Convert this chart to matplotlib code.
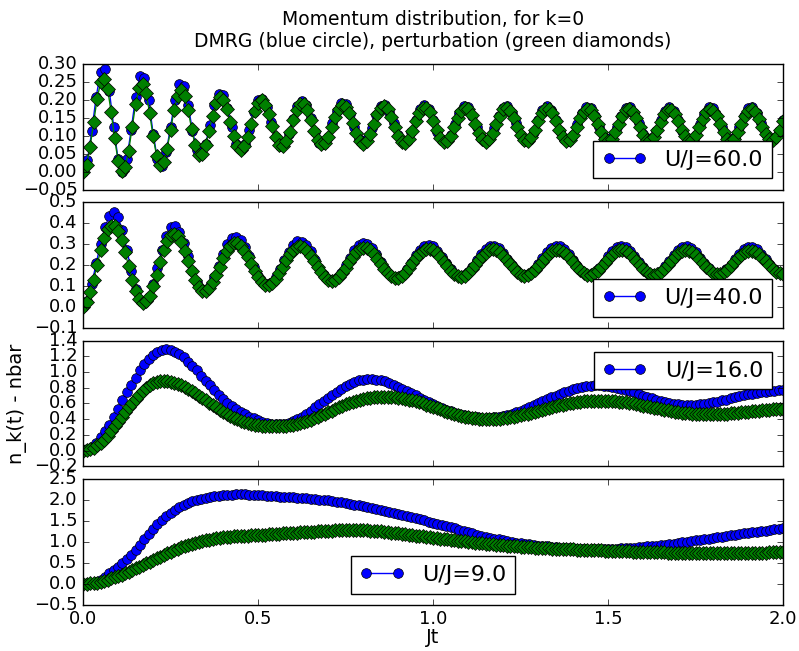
import numpy as np
import matplotlib
matplotlib.use('Agg')
import matplotlib.pyplot as plt

plt.style.use('classic')
plt.rcParams['figure.facecolor'] = 'white'
plt.rcParams['savefig.facecolor'] = 'white'

# time grids: DMRG run with dt=0.0125, perturbation theory with dt=0.01
t_dmrg = np.linspace(0.0, 2.0, 161)
t_pert = np.linspace(0.0, 2.0, 201)

U_values = [60.0, 40.0, 16.0, 9.0]

# U/J = 60
dmrg_60 = [
    0.000, 0.032, 0.114, 0.209, 0.276, 0.285, 0.225, 0.124, 0.034, 0.000,
    0.035, 0.117, 0.208, 0.266, 0.261, 0.198, 0.106, 0.034, 0.017, 0.054,
    0.125, 0.199, 0.243, 0.238, 0.186, 0.114, 0.059, 0.047, 0.076, 0.130,
    0.186, 0.217, 0.213, 0.176, 0.123, 0.078, 0.060, 0.076, 0.117, 0.165,
    0.198, 0.203, 0.179, 0.138, 0.096, 0.072, 0.076, 0.105, 0.147, 0.183,
    0.197, 0.184, 0.149, 0.109, 0.081, 0.077, 0.097, 0.134, 0.170, 0.190,
    0.187, 0.160, 0.123, 0.091, 0.078, 0.090, 0.121, 0.157, 0.183, 0.186,
    0.167, 0.134, 0.101, 0.082, 0.085, 0.109, 0.144, 0.174, 0.186, 0.175,
    0.145, 0.111, 0.087, 0.083, 0.101, 0.133, 0.164, 0.183, 0.179, 0.156,
    0.123, 0.094, 0.083, 0.094, 0.122, 0.155, 0.178, 0.182, 0.164, 0.134,
    0.103, 0.085, 0.089, 0.111, 0.143, 0.171, 0.182, 0.171, 0.144, 0.112,
    0.090, 0.086, 0.103, 0.133, 0.163, 0.180, 0.177, 0.154, 0.123, 0.096,
    0.085, 0.096, 0.123, 0.154, 0.176, 0.180, 0.163, 0.134, 0.104, 0.087,
    0.090, 0.112, 0.143, 0.170, 0.180, 0.170, 0.144, 0.113, 0.091, 0.087,
    0.103, 0.132, 0.161, 0.179, 0.176, 0.154, 0.123, 0.096, 0.086, 0.096,
    0.123, 0.154, 0.176, 0.179, 0.162, 0.134, 0.105, 0.088, 0.091, 0.113,
    0.143]
pert_60 = [
    0.000, 0.019, 0.069, 0.137, 0.203, 0.248, 0.259, 0.230, 0.167, 0.093,
    0.030, 0.001, 0.012, 0.057, 0.123, 0.187, 0.233, 0.244, 0.218, 0.164,
    0.098, 0.044, 0.018, 0.027, 0.063, 0.116, 0.171, 0.211, 0.226, 0.211,
    0.171, 0.120, 0.073, 0.047, 0.049, 0.074, 0.113, 0.156, 0.190, 0.207,
    0.200, 0.175, 0.137, 0.099, 0.070, 0.060, 0.070, 0.097, 0.133, 0.168,
    0.192, 0.198, 0.186, 0.159, 0.126, 0.095, 0.074, 0.071, 0.084, 0.111,
    0.143, 0.171, 0.188, 0.188, 0.172, 0.145, 0.114, 0.089, 0.076, 0.079,
    0.096, 0.123, 0.152, 0.175, 0.186, 0.181, 0.162, 0.135, 0.107, 0.086,
    0.078, 0.086, 0.106, 0.133, 0.160, 0.178, 0.183, 0.173, 0.151, 0.125,
    0.100, 0.083, 0.081, 0.092, 0.114, 0.141, 0.164, 0.178, 0.178, 0.165,
    0.141, 0.115, 0.094, 0.083, 0.085, 0.100, 0.124, 0.149, 0.168, 0.178,
    0.174, 0.157, 0.133, 0.108, 0.090, 0.083, 0.090, 0.108, 0.132, 0.156,
    0.173, 0.177, 0.168, 0.149, 0.124, 0.102, 0.087, 0.085, 0.095, 0.115,
    0.140, 0.162, 0.174, 0.174, 0.162, 0.140, 0.116, 0.096, 0.086, 0.088,
    0.102, 0.124, 0.148, 0.166, 0.175, 0.171, 0.155, 0.132, 0.109, 0.091,
    0.085, 0.091, 0.109, 0.132, 0.155, 0.171, 0.175, 0.166, 0.148, 0.125,
    0.103, 0.089, 0.087, 0.096, 0.116, 0.139, 0.160, 0.172, 0.172, 0.161,
    0.140, 0.117, 0.098, 0.087, 0.088, 0.102, 0.123, 0.146, 0.165, 0.174,
    0.170, 0.155, 0.132, 0.109, 0.092, 0.086, 0.092, 0.109, 0.132, 0.155,
    0.170, 0.174, 0.166, 0.147, 0.125, 0.104, 0.090, 0.088, 0.097, 0.117,
    0.140]

# U/J = 40
dmrg_40 = [
    0.000, 0.030, 0.110, 0.210, 0.300, 0.380, 0.435, 0.455, 0.430, 0.365,
    0.274, 0.174, 0.088, 0.034, 0.021, 0.049, 0.108, 0.187, 0.270, 0.340,
    0.380, 0.386, 0.360, 0.307, 0.241, 0.173, 0.117, 0.084, 0.080, 0.102,
    0.145, 0.198, 0.254, 0.301, 0.330, 0.335, 0.319, 0.286, 0.241, 0.193,
    0.150, 0.120, 0.108, 0.116, 0.141, 0.179, 0.222, 0.262, 0.296, 0.313,
    0.312, 0.295, 0.265, 0.226, 0.187, 0.154, 0.133, 0.128, 0.139, 0.164,
    0.199, 0.236, 0.270, 0.294, 0.305, 0.300, 0.281, 0.251, 0.217, 0.183,
    0.157, 0.142, 0.142, 0.155, 0.181, 0.212, 0.246, 0.274, 0.292, 0.298,
    0.290, 0.269, 0.240, 0.208, 0.179, 0.157, 0.147, 0.151, 0.167, 0.192,
    0.223, 0.253, 0.278, 0.292, 0.293, 0.282, 0.260, 0.231, 0.202, 0.175,
    0.158, 0.152, 0.159, 0.177, 0.203, 0.233, 0.261, 0.281, 0.291, 0.289,
    0.275, 0.252, 0.224, 0.195, 0.172, 0.158, 0.156, 0.165, 0.185, 0.212,
    0.241, 0.266, 0.284, 0.290, 0.285, 0.268, 0.244, 0.216, 0.189, 0.169,
    0.158, 0.159, 0.172, 0.194, 0.221, 0.248, 0.271, 0.286, 0.289, 0.280,
    0.262, 0.236, 0.209, 0.184, 0.166, 0.159, 0.164, 0.179, 0.202, 0.229,
    0.255, 0.276, 0.287, 0.286, 0.275, 0.254, 0.228, 0.202, 0.179, 0.164,
    0.160]
pert_40 = [
    0.000, 0.025, 0.070, 0.130, 0.200, 0.270, 0.330, 0.370, 0.388, 0.387,
    0.364, 0.320, 0.261, 0.195, 0.130, 0.075, 0.037, 0.020, 0.027, 0.054,
    0.099, 0.155, 0.215, 0.271, 0.316, 0.343, 0.350, 0.337, 0.309, 0.268,
    0.220, 0.171, 0.127, 0.095, 0.077, 0.077, 0.091, 0.117, 0.153, 0.192,
    0.232, 0.266, 0.291, 0.304, 0.303, 0.290, 0.268, 0.238, 0.205, 0.171,
    0.142, 0.120, 0.107, 0.106, 0.115, 0.135, 0.161, 0.191, 0.222, 0.251,
    0.273, 0.286, 0.290, 0.283, 0.268, 0.245, 0.219, 0.191, 0.165, 0.143,
    0.130, 0.125, 0.130, 0.143, 0.163, 0.188, 0.215, 0.240, 0.262, 0.277,
    0.283, 0.280, 0.270, 0.252, 0.230, 0.205, 0.182, 0.161, 0.146, 0.139,
    0.139, 0.148, 0.164, 0.185, 0.208, 0.232, 0.252, 0.268, 0.277, 0.277,
    0.271, 0.257, 0.238, 0.216, 0.194, 0.173, 0.157, 0.148, 0.145, 0.150,
    0.163, 0.180, 0.201, 0.223, 0.244, 0.260, 0.271, 0.275, 0.271, 0.261,
    0.245, 0.225, 0.204, 0.184, 0.167, 0.155, 0.150, 0.152, 0.161, 0.176,
    0.195, 0.216, 0.236, 0.253, 0.266, 0.272, 0.272, 0.264, 0.251, 0.233,
    0.213, 0.193, 0.175, 0.162, 0.154, 0.154, 0.160, 0.172, 0.189, 0.208,
    0.229, 0.247, 0.261, 0.270, 0.272, 0.267, 0.256, 0.240, 0.221, 0.202,
    0.183, 0.168, 0.158, 0.155, 0.158, 0.168, 0.183, 0.201, 0.221, 0.240,
    0.256, 0.266, 0.271, 0.269, 0.261, 0.247, 0.229, 0.210, 0.191, 0.175,
    0.163, 0.158, 0.158, 0.165, 0.178, 0.195, 0.214, 0.232, 0.249, 0.262,
    0.269, 0.269, 0.264, 0.252, 0.236, 0.218, 0.199, 0.182, 0.168, 0.160,
    0.158]

# U/J = 16
dmrg_16 = [
    0.00, 0.02, 0.05, 0.10, 0.17, 0.25, 0.33, 0.43, 0.53, 0.64,
    0.74, 0.83, 0.93, 1.02, 1.10, 1.16, 1.22, 1.26, 1.28, 1.29,
    1.28, 1.26, 1.23, 1.19, 1.13, 1.08, 1.02, 0.95, 0.89, 0.83,
    0.77, 0.71, 0.66, 0.61, 0.57, 0.53, 0.49, 0.46, 0.43, 0.41,
    0.385, 0.37, 0.35, 0.34, 0.335, 0.335, 0.34, 0.355, 0.375, 0.40,
    0.43, 0.47, 0.51, 0.55, 0.59, 0.63, 0.67, 0.71, 0.75, 0.79,
    0.82, 0.85, 0.875, 0.895, 0.905, 0.91, 0.91, 0.905, 0.895, 0.88,
    0.86, 0.84, 0.815, 0.79, 0.76, 0.735, 0.705, 0.675, 0.645, 0.62,
    0.59, 0.565, 0.54, 0.52, 0.50, 0.48, 0.465, 0.45, 0.44, 0.43,
    0.425, 0.42, 0.42, 0.42, 0.425, 0.43, 0.44, 0.455, 0.47, 0.49,
    0.51, 0.53, 0.555, 0.58, 0.605, 0.63, 0.655, 0.68, 0.70, 0.725,
    0.745, 0.765, 0.78, 0.795, 0.81, 0.82, 0.825, 0.83, 0.83, 0.825,
    0.82, 0.81, 0.80, 0.785, 0.77, 0.755, 0.74, 0.72, 0.70, 0.68,
    0.665, 0.645, 0.63, 0.615, 0.605, 0.595, 0.59, 0.585, 0.58, 0.58,
    0.585, 0.59, 0.595, 0.605, 0.615, 0.625, 0.64, 0.65, 0.665, 0.68,
    0.69, 0.705, 0.715, 0.725, 0.735, 0.745, 0.75, 0.76, 0.765, 0.77,
    0.775]
pert_16 = [
    0.00, 0.01, 0.02, 0.04, 0.07, 0.10, 0.14, 0.19, 0.25, 0.31,
    0.37, 0.43, 0.49, 0.55, 0.61, 0.66, 0.71, 0.76, 0.80, 0.835,
    0.86, 0.875, 0.883, 0.885, 0.882, 0.875, 0.865, 0.85, 0.83, 0.81,
    0.785, 0.76, 0.73, 0.70, 0.67, 0.64, 0.61, 0.58, 0.55, 0.52,
    0.495, 0.47, 0.445, 0.42, 0.40, 0.38, 0.365, 0.35, 0.34, 0.33,
    0.322, 0.317, 0.313, 0.31, 0.31, 0.31, 0.31, 0.312, 0.316, 0.322,
    0.33, 0.34, 0.35, 0.365, 0.38, 0.395, 0.41, 0.43, 0.45, 0.47,
    0.49, 0.51, 0.53, 0.55, 0.57, 0.59, 0.605, 0.62, 0.635, 0.648,
    0.66, 0.668, 0.675, 0.68, 0.683, 0.685, 0.685, 0.685, 0.683, 0.68,
    0.675, 0.668, 0.66, 0.65, 0.64, 0.628, 0.615, 0.60, 0.585, 0.57,
    0.555, 0.54, 0.525, 0.51, 0.495, 0.48, 0.467, 0.455, 0.443, 0.432,
    0.423, 0.415, 0.41, 0.405, 0.402, 0.40, 0.40, 0.40, 0.402, 0.405,
    0.41, 0.415, 0.422, 0.43, 0.44, 0.45, 0.46, 0.47, 0.482, 0.494,
    0.506, 0.518, 0.53, 0.542, 0.554, 0.565, 0.576, 0.586, 0.595, 0.603,
    0.61, 0.617, 0.622, 0.627, 0.63, 0.633, 0.634, 0.635, 0.635, 0.635,
    0.634, 0.632, 0.629, 0.625, 0.62, 0.614, 0.607, 0.60, 0.592, 0.583,
    0.574, 0.565, 0.556, 0.547, 0.538, 0.529, 0.52, 0.512, 0.504, 0.497,
    0.49, 0.484, 0.478, 0.473, 0.469, 0.466, 0.463, 0.461, 0.46, 0.46,
    0.461, 0.462, 0.464, 0.467, 0.47, 0.474, 0.478, 0.482, 0.487, 0.492,
    0.497, 0.502, 0.506, 0.51, 0.514, 0.518, 0.521, 0.524, 0.527, 0.529,
    0.531]

# U/J = 9
dmrg_9 = [
    0.00, 0.01, 0.02, 0.05, 0.10, 0.17, 0.25, 0.33, 0.41, 0.49,
    0.58, 0.68, 0.80, 0.93, 1.06, 1.19, 1.31, 1.42, 1.53, 1.62,
    1.70, 1.77, 1.83, 1.88, 1.93, 1.97, 2.00, 2.03, 2.05, 2.07,
    2.09, 2.10, 2.11, 2.12, 2.125, 2.13, 2.13, 2.13, 2.125, 2.12,
    2.115, 2.11, 2.10, 2.095, 2.09, 2.08, 2.075, 2.07, 2.06, 2.055,
    2.05, 2.04, 2.03, 2.02, 2.01, 2.00, 1.99, 1.975, 1.96, 1.945,
    1.93, 1.91, 1.89, 1.87, 1.85, 1.83, 1.81, 1.785, 1.76, 1.735,
    1.71, 1.685, 1.66, 1.635, 1.61, 1.585, 1.56, 1.535, 1.51, 1.485,
    1.46, 1.435, 1.41, 1.38, 1.35, 1.32, 1.29, 1.26, 1.23, 1.20,
    1.175, 1.15, 1.125, 1.10, 1.08, 1.06, 1.04, 1.02, 1.00, 0.985,
    0.97, 0.955, 0.94, 0.925, 0.91, 0.90, 0.89, 0.88, 0.87, 0.86,
    0.855, 0.85, 0.845, 0.84, 0.835, 0.835, 0.83, 0.83, 0.83, 0.83,
    0.835, 0.835, 0.84, 0.845, 0.85, 0.855, 0.86, 0.87, 0.88, 0.89,
    0.90, 0.91, 0.92, 0.935, 0.95, 0.96, 0.975, 0.99, 1.005, 1.02,
    1.035, 1.05, 1.065, 1.08, 1.095, 1.11, 1.125, 1.14, 1.155, 1.17,
    1.185, 1.20, 1.215, 1.23, 1.24, 1.255, 1.27, 1.285, 1.30, 1.31,
    1.325]
pert_9 = [
    0.00, 0.00, 0.01, 0.02, 0.03, 0.05, 0.07, 0.10, 0.13, 0.16,
    0.19, 0.22, 0.26, 0.29, 0.33, 0.37, 0.41, 0.45, 0.49, 0.53,
    0.57, 0.61, 0.65, 0.69, 0.73, 0.76, 0.80, 0.83, 0.87, 0.90,
    0.93, 0.955, 0.98, 1.00, 1.02, 1.04, 1.055, 1.07, 1.085, 1.095,
    1.105, 1.115, 1.125, 1.13, 1.135, 1.14, 1.145, 1.15, 1.155, 1.16,
    1.165, 1.17, 1.175, 1.18, 1.185, 1.19, 1.195, 1.20, 1.205, 1.21,
    1.215, 1.22, 1.225, 1.23, 1.235, 1.24, 1.245, 1.25, 1.255, 1.26,
    1.265, 1.27, 1.275, 1.28, 1.28, 1.285, 1.285, 1.285, 1.285, 1.28,
    1.28, 1.275, 1.27, 1.265, 1.26, 1.25, 1.24, 1.23, 1.22, 1.21,
    1.20, 1.19, 1.18, 1.17, 1.16, 1.15, 1.14, 1.13, 1.12, 1.11,
    1.10, 1.09, 1.08, 1.07, 1.06, 1.05, 1.04, 1.03, 1.02, 1.01,
    1.00, 0.99, 0.98, 0.97, 0.965, 0.955, 0.945, 0.94, 0.93, 0.925,
    0.915, 0.91, 0.90, 0.895, 0.89, 0.885, 0.88, 0.875, 0.87, 0.865,
    0.86, 0.855, 0.85, 0.845, 0.84, 0.835, 0.83, 0.83, 0.825, 0.82,
    0.82, 0.815, 0.81, 0.81, 0.805, 0.80, 0.80, 0.795, 0.795, 0.79,
    0.79, 0.785, 0.785, 0.78, 0.78, 0.775, 0.775, 0.77, 0.77, 0.765,
    0.765, 0.76, 0.76, 0.755, 0.755, 0.75, 0.75, 0.745, 0.745, 0.74,
    0.74, 0.74, 0.735, 0.735, 0.735, 0.73, 0.73, 0.73, 0.73, 0.73,
    0.73, 0.73, 0.73, 0.73, 0.73, 0.73, 0.73, 0.735, 0.735, 0.735,
    0.74, 0.74, 0.74, 0.745, 0.745, 0.745, 0.75, 0.75, 0.75, 0.755,
    0.755]

dmrg = [dmrg_60, dmrg_40, dmrg_16, dmrg_9]
pert = [pert_60, pert_40, pert_16, pert_9]

ylims = [(-0.05, 0.30), (-0.1, 0.5), (-0.2, 1.4), (-0.5, 2.5)]
ysteps = [0.05, 0.1, 0.2, 0.5]
legend_locs = ['lower right', 'lower right', 'upper right', 'lower center']

fig, axes = plt.subplots(4, 1, sharex=True, figsize=(7.99, 6.51))
fig.subplots_adjust(left=0.104, right=0.98, top=0.902, bottom=0.071, hspace=0.1)

for ax, U, yd, yp, lim, step, loc in zip(axes, U_values, dmrg, pert,
                                         ylims, ysteps, legend_locs):
    ax.plot(t_dmrg, yd, 'bo-', markersize=7, label='U/J=%.1f' % U)
    ax.plot(t_pert, yp, 'gD-', markersize=7)
    ax.set_ylim(lim)
    ax.set_yticks(np.arange(lim[0], lim[1] + step / 2, step))
    ax.tick_params(labelsize=13)
    ax.legend(loc=loc, fontsize=16)

axes[0].set_title('Momentum distribution, for k=0\n'
                  'DMRG (blue circle), perturbation (green diamonds)',
                  fontsize=13.5, pad=12)
axes[2].set_ylabel('n_k(t) - nbar', fontsize=14)
axes[3].set_xlabel('Jt', fontsize=14, labelpad=0)
axes[3].set_xlim(0.0, 2.0)
axes[3].set_xticks([0.0, 0.5, 1.0, 1.5, 2.0])

fig.savefig('out.png', dpi=100)
